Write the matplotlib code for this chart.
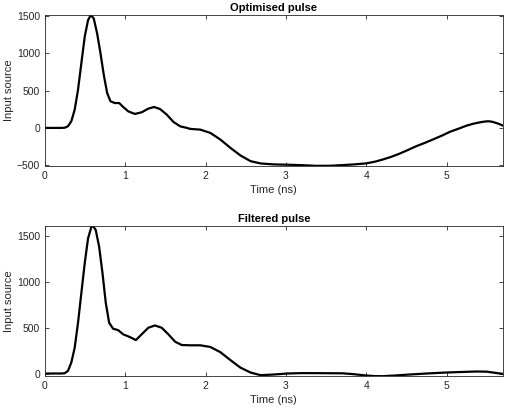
import numpy as np
import matplotlib.pyplot as plt

plt.rcParams['font.family'] = ['Liberation Sans', 'DejaVu Sans']

# optimised pulse
t_opt = [0, 0.1, 0.2, 0.246, 0.2875, 0.329, 0.371, 0.4125, 0.454, 0.496, 0.5375,
         0.571, 0.608, 0.65, 0.692, 0.733, 0.775, 0.817, 0.871, 0.925, 0.975,
         1.0375, 1.12, 1.204, 1.2875, 1.358, 1.433, 1.517, 1.6, 1.684, 1.767,
         1.809, 1.934, 2.059, 2.184, 2.309, 2.434, 2.559, 2.684, 2.85, 3.017,
         3.18, 3.375, 3.55, 3.71, 3.85, 4.0, 4.11, 4.21, 4.32, 4.42, 4.52,
         4.625, 4.73, 4.83, 4.94, 5.04, 5.15, 5.25, 5.34, 5.42, 5.48, 5.52,
         5.56, 5.6, 5.65, 5.7]
v_opt = [0, 0, 0, 2, 22, 89, 244, 511, 867, 1222, 1444,
         1511, 1467, 1267, 1000, 711, 467, 356, 333, 333, 280,
         222, 187, 209, 258, 280, 253, 178, 80, 21, 0,
         -13, -23, -67, -156, -267, -369, -445, -476, -489, -493,
         -498, -508, -507, -498, -489, -475, -452, -422, -384, -342, -295,
         -244, -200, -155, -104, -53, -10, 31, 58, 76, 86, 89,
         84, 72, 54, 31]

# filtered pulse
t_fil = [0, 0.1, 0.2, 0.246, 0.2875, 0.329, 0.371, 0.4125, 0.454, 0.496, 0.5375,
         0.579, 0.6, 0.633, 0.675, 0.717, 0.758, 0.8, 0.85, 0.9125, 0.975,
         1.05, 1.133, 1.204, 1.2875, 1.37, 1.454, 1.5375, 1.621, 1.704, 1.808,
         1.934, 2.059, 2.184, 2.309, 2.434, 2.559, 2.684, 2.85, 3.017, 3.18,
         3.375, 3.71, 3.85, 4.0, 4.1, 4.21, 4.35, 4.54, 4.75, 5.0, 5.2, 5.375,
         5.5, 5.6, 5.7]
v_fil = [0, 0, 0, 3, 29, 119, 281, 552, 876, 1201, 1471,
         1597, 1605, 1561, 1381, 1093, 768, 552, 487, 472, 426,
         400, 364, 426, 498, 523, 498, 426, 346, 310, 307,
         307, 289, 232, 146, 64, 11, -18, -11, 0, 4,
         4, 2, -8, -22, -28, -29, -22, -11, 0, 11, 17, 22,
         20, 8, -4]

fig = plt.figure(figsize=(5.1, 4.08), dpi=100)
ax1 = fig.add_axes([0.088, 0.593, 0.898, 0.370])
ax2 = fig.add_axes([0.088, 0.078, 0.898, 0.368])

for ax, t, v, title, ylim, yticks in [
        (ax1, t_opt, v_opt, 'Optimised pulse', (-511, 1511), [-500, 0, 500, 1000, 1500]),
        (ax2, t_fil, v_fil, 'Filtered pulse', (-29, 1605), [0, 500, 1000, 1500])]:
    ax.plot(t, v, color='black', lw=1.6, solid_joinstyle='round')
    ax.set_xlim(0, 5.7)
    ax.set_ylim(*ylim)
    ax.set_yticks(yticks)
    ax.set_xticks([0, 1, 2, 3, 4, 5])
    ax.tick_params(direction='in', top=True, right=True, labelsize=7.5,
                   length=3, width=0.6, colors='#262626')
    for s in ax.spines.values():
        s.set_linewidth(0.6)
        s.set_color('#262626')
    ax.set_title(title, fontsize=8, fontweight='bold', pad=3)
    ax.set_xlabel('Time (ns)', fontsize=8, color='#262626', labelpad=3)
    ax.set_ylabel('Input source', fontsize=8, color='#262626', labelpad=2)

fig.savefig('out.png', dpi=100)
